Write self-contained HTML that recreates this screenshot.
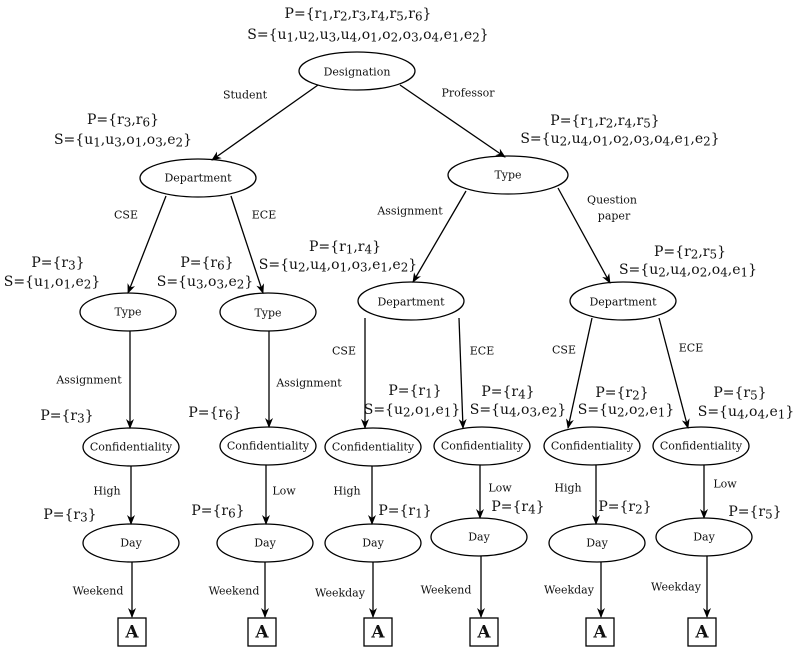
<!DOCTYPE html>
<html><head><meta charset="utf-8"><style>
body{margin:0;background:#fff;}
#w{position:relative;width:800px;height:656px;overflow:hidden;font-family:"DejaVu Serif","Liberation Serif",serif;color:#111;}
svg{position:absolute;left:0;top:0;}
.t{position:absolute;transform:translate(-50%,-50%);white-space:nowrap;line-height:1;}
.e{font-size:11px;}
.p{font-size:14px;}
.p sub{font-size:0.85em;vertical-align:-0.2em;line-height:0;}
</style></head><body><div id="w">
<svg width="800" height="656" viewBox="0 0 800 656">
<defs><marker id="a" markerWidth="10" markerHeight="10" refX="9" refY="5" orient="auto" markerUnits="userSpaceOnUse"><path d="M0,1 L10,5 L0,9 L3,5 z" fill="#000"/></marker></defs>
<g fill="none" stroke="#000" stroke-width="1.3">
<ellipse cx="357" cy="71" rx="58" ry="19"/>
<ellipse cx="198" cy="178" rx="58" ry="19"/>
<ellipse cx="508" cy="175" rx="60" ry="19"/>
<ellipse cx="128" cy="312" rx="48" ry="19"/>
<ellipse cx="268" cy="312" rx="48" ry="19"/>
<ellipse cx="411" cy="301" rx="53" ry="19"/>
<ellipse cx="623" cy="301" rx="53" ry="19"/>
<ellipse cx="131" cy="447" rx="48" ry="19"/>
<ellipse cx="268" cy="446" rx="48" ry="19"/>
<ellipse cx="373" cy="447" rx="48" ry="19"/>
<ellipse cx="482" cy="446" rx="48" ry="19"/>
<ellipse cx="592" cy="446" rx="48" ry="19"/>
<ellipse cx="701" cy="446" rx="48" ry="19"/>
<ellipse cx="131" cy="543" rx="48" ry="19"/>
<ellipse cx="265" cy="543" rx="48" ry="19"/>
<ellipse cx="373" cy="543" rx="48" ry="19"/>
<ellipse cx="479" cy="537" rx="48" ry="19"/>
<ellipse cx="597" cy="543" rx="48" ry="19"/>
<ellipse cx="704" cy="537" rx="48" ry="19"/>
<rect x="118" y="618" width="28" height="28"/>
<rect x="248" y="618" width="28" height="28"/>
<rect x="364" y="618" width="28" height="28"/>
<rect x="470" y="618" width="28" height="28"/>
<rect x="586" y="618" width="28" height="28"/>
<rect x="688" y="618" width="28" height="28"/>
</g>
<g stroke="#000" stroke-width="1.3" marker-end="url(#a)">
<line x1="318" y1="85" x2="212" y2="160"/>
<line x1="400" y1="85" x2="505" y2="157"/>
<line x1="166" y1="196" x2="128" y2="293"/>
<line x1="231" y1="196" x2="263" y2="293"/>
<line x1="466" y1="191" x2="413" y2="282"/>
<line x1="558" y1="188" x2="610" y2="283"/>
<line x1="365" y1="318" x2="365" y2="428"/>
<line x1="459" y1="318" x2="463" y2="428"/>
<line x1="592" y1="318" x2="568" y2="428"/>
<line x1="659" y1="318" x2="688" y2="428"/>
<line x1="130" y1="331" x2="130" y2="428"/>
<line x1="269" y1="331" x2="269" y2="427"/>
<line x1="131" y1="466" x2="131" y2="524"/>
<line x1="266" y1="465" x2="266" y2="524"/>
<line x1="372" y1="466" x2="372" y2="524"/>
<line x1="480" y1="465" x2="480" y2="518"/>
<line x1="596" y1="465" x2="596" y2="524"/>
<line x1="704" y1="465" x2="704" y2="518"/>
<line x1="132" y1="562" x2="132" y2="617"/>
<line x1="265" y1="562" x2="265" y2="617"/>
<line x1="373" y1="562" x2="373" y2="617"/>
<line x1="481" y1="556" x2="481" y2="617"/>
<line x1="601" y1="562" x2="601" y2="617"/>
<line x1="707" y1="556" x2="707" y2="617"/>
</g>
</svg>
<!-- node labels -->
<div class="t e" style="left:357px;top:72px">Designation</div>
<div class="t e" style="left:198px;top:178px">Department</div>
<div class="t e" style="left:508px;top:175px">Type</div>
<div class="t e" style="left:128px;top:312px">Type</div>
<div class="t e" style="left:268px;top:313px">Type</div>
<div class="t e" style="left:411px;top:302px">Department</div>
<div class="t e" style="left:623px;top:302px">Department</div>
<div class="t e" style="left:131px;top:447px">Confidentiality</div>
<div class="t e" style="left:268px;top:446px">Confidentiality</div>
<div class="t e" style="left:373px;top:447px">Confidentiality</div>
<div class="t e" style="left:482px;top:446px">Confidentiality</div>
<div class="t e" style="left:592px;top:446px">Confidentiality</div>
<div class="t e" style="left:701px;top:446px">Confidentiality</div>
<div class="t e" style="left:131px;top:543px">Day</div>
<div class="t e" style="left:265px;top:543px">Day</div>
<div class="t e" style="left:373px;top:543px">Day</div>
<div class="t e" style="left:479px;top:537px">Day</div>
<div class="t e" style="left:597px;top:543px">Day</div>
<div class="t e" style="left:704px;top:537px">Day</div>
<div class="t" style="left:132px;top:633px;font-size:17px;font-weight:bold">A</div>
<div class="t" style="left:262px;top:633px;font-size:17px;font-weight:bold">A</div>
<div class="t" style="left:378px;top:633px;font-size:17px;font-weight:bold">A</div>
<div class="t" style="left:484px;top:633px;font-size:17px;font-weight:bold">A</div>
<div class="t" style="left:600px;top:633px;font-size:17px;font-weight:bold">A</div>
<div class="t" style="left:702px;top:633px;font-size:17px;font-weight:bold">A</div>
<!-- edge labels -->
<div class="t e" style="left:245px;top:95px">Student</div>
<div class="t e" style="left:468px;top:93px">Professor</div>
<div class="t e" style="left:126px;top:215px">CSE</div>
<div class="t e" style="left:264px;top:215px">ECE</div>
<div class="t e" style="left:410px;top:211px">Assignment</div>
<div class="t e" style="left:612px;top:200px">Question</div>
<div class="t e" style="left:614px;top:216px">paper</div>
<div class="t e" style="left:344px;top:351px">CSE</div>
<div class="t e" style="left:482px;top:351px">ECE</div>
<div class="t e" style="left:564px;top:350px">CSE</div>
<div class="t e" style="left:691px;top:348px">ECE</div>
<div class="t e" style="left:89px;top:380px">Assignment</div>
<div class="t e" style="left:309px;top:383px">Assignment</div>
<div class="t e" style="left:107px;top:491px">High</div>
<div class="t e" style="left:284px;top:491px">Low</div>
<div class="t e" style="left:347px;top:491px">High</div>
<div class="t e" style="left:500px;top:488px">Low</div>
<div class="t e" style="left:568px;top:488px">High</div>
<div class="t e" style="left:725px;top:484px">Low</div>
<div class="t e" style="left:98px;top:591px">Weekend</div>
<div class="t e" style="left:234px;top:591px">Weekend</div>
<div class="t e" style="left:340px;top:593px">Weekday</div>
<div class="t e" style="left:446px;top:590px">Weekend</div>
<div class="t e" style="left:569px;top:590px">Weekday</div>
<div class="t e" style="left:676px;top:587px">Weekday</div>
<!-- P / S labels -->
<div class="t p" style="left:358px;top:14px">P={r<sub>1</sub>,r<sub>2</sub>,r<sub>3</sub>,r<sub>4</sub>,r<sub>5</sub>,r<sub>6</sub>}</div>
<div class="t p" style="left:368px;top:35px">S={u<sub>1</sub>,u<sub>2</sub>,u<sub>3</sub>,u<sub>4</sub>,o<sub>1</sub>,o<sub>2</sub>,o<sub>3</sub>,o<sub>4</sub>,e<sub>1</sub>,e<sub>2</sub>}</div>
<div class="t p" style="left:123px;top:120px">P={r<sub>3</sub>,r<sub>6</sub>}</div>
<div class="t p" style="left:123px;top:140px">S={u<sub>1</sub>,u<sub>3</sub>,o<sub>1</sub>,o<sub>3</sub>,e<sub>2</sub>}</div>
<div class="t p" style="left:605px;top:121px">P={r<sub>1</sub>,r<sub>2</sub>,r<sub>4</sub>,r<sub>5</sub>}</div>
<div class="t p" style="left:620px;top:139px">S={u<sub>2</sub>,u<sub>4</sub>,o<sub>1</sub>,o<sub>2</sub>,o<sub>3</sub>,o<sub>4</sub>,e<sub>1</sub>,e<sub>2</sub>}</div>
<div class="t p" style="left:58px;top:263px">P={r<sub>3</sub>}</div>
<div class="t p" style="left:52px;top:282px">S={u<sub>1</sub>,o<sub>1</sub>,e<sub>2</sub>}</div>
<div class="t p" style="left:207px;top:263px">P={r<sub>6</sub>}</div>
<div class="t p" style="left:205px;top:282px">S={u<sub>3</sub>,o<sub>3</sub>,e<sub>2</sub>}</div>
<div class="t p" style="left:345px;top:247px">P={r<sub>1</sub>,r<sub>4</sub>}</div>
<div class="t p" style="left:338px;top:265px">S={u<sub>2</sub>,u<sub>4</sub>,o<sub>1</sub>,o<sub>3</sub>,e<sub>1</sub>,e<sub>2</sub>}</div>
<div class="t p" style="left:690px;top:252px">P={r<sub>2</sub>,r<sub>5</sub>}</div>
<div class="t p" style="left:688px;top:270px">S={u<sub>2</sub>,u<sub>4</sub>,o<sub>2</sub>,o<sub>4</sub>,e<sub>1</sub>}</div>
<div class="t p" style="left:67px;top:416px">P={r<sub>3</sub>}</div>
<div class="t p" style="left:215px;top:413px">P={r<sub>6</sub>}</div>
<div class="t p" style="left:415px;top:391px">P={r<sub>1</sub>}</div>
<div class="t p" style="left:412px;top:410px">S={u<sub>2</sub>,o<sub>1</sub>,e<sub>1</sub>}</div>
<div class="t p" style="left:508px;top:392px">P={r<sub>4</sub>}</div>
<div class="t p" style="left:518px;top:410px">S={u<sub>4</sub>,o<sub>3</sub>,e<sub>2</sub>}</div>
<div class="t p" style="left:622px;top:393px">P={r<sub>2</sub>}</div>
<div class="t p" style="left:626px;top:410px">S={u<sub>2</sub>,o<sub>2</sub>,e<sub>1</sub>}</div>
<div class="t p" style="left:740px;top:393px">P={r<sub>5</sub>}</div>
<div class="t p" style="left:746px;top:412px">S={u<sub>4</sub>,o<sub>4</sub>,e<sub>1</sub>}</div>
<div class="t p" style="left:70px;top:515px">P={r<sub>3</sub>}</div>
<div class="t p" style="left:218px;top:511px">P={r<sub>6</sub>}</div>
<div class="t p" style="left:405px;top:511px">P={r<sub>1</sub>}</div>
<div class="t p" style="left:518px;top:507px">P={r<sub>4</sub>}</div>
<div class="t p" style="left:625px;top:507px">P={r<sub>2</sub>}</div>
<div class="t p" style="left:755px;top:512px">P={r<sub>5</sub>}</div>
</div></body></html>
